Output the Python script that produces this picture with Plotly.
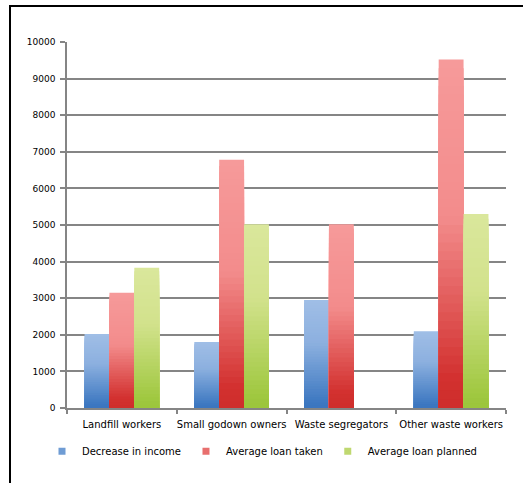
import plotly.graph_objects as go

categories = ["Landfill workers", "Small godown owners", "Waste segregators", "Other waste workers"]
decrease_in_income = [2020, 1800, 2950, 2100]
average_loan_taken = [3150, 6780, 5020, 9520]
average_loan_planned = [3830, 5020, 0, 5300]
y_ticks = list(range(0, 10001, 1000))

series = [
    ("Decrease in income", decrease_in_income,
     [(0.0, (160, 190, 230)), (0.4, (140, 176, 223)), (0.95, (61, 120, 193)), (1.0, (59, 117, 190))]),
    ("Average loan taken", average_loan_taken,
     [(0.0, (246, 154, 154)), (0.45, (243, 140, 140)), (0.92, (210, 48, 46)), (1.0, (207, 46, 44))]),
    ("Average loan planned", average_loan_planned,
     [(0.0, (218, 231, 156)), (0.4, (210, 226, 140)), (0.95, (158, 199, 62)), (1.0, (155, 197, 60))]),
]

N_SEG = 40


def grad_color(stops, t):
    for (t0, c0), (t1, c1) in zip(stops[:-1], stops[1:]):
        if t <= t1:
            f = 0 if t1 == t0 else (t - t0) / (t1 - t0)
            c = [round(a + (b - a) * f) for a, b in zip(c0, c1)]
            return "rgb(%d,%d,%d)" % tuple(c)
    return "rgb(%d,%d,%d)" % stops[-1][1]


FONT = "DejaVu Sans"
fig = go.Figure()

for gi, (name, vals, stops) in enumerate(series):
    # overlapping bars from the bottom: tallest first (lightest top band), shorter ones drawn over it
    for k in range(N_SEG):
        frac = (N_SEG - k) / N_SEG
        t = (k + 0.5) / N_SEG
        fig.add_trace(go.Bar(
            x=categories,
            y=[v * frac for v in vals],
            offsetgroup=str(gi),
            marker=dict(color=grad_color(stops, t), line=dict(width=0)),
            showlegend=False,
            hoverinfo="skip",
        ))
    # legend entry
    fig.add_trace(go.Scatter(
        x=[None], y=[None], mode="markers", name=name,
        marker=dict(symbol="square", size=7, color=grad_color(stops, 0.6)),
    ))

fig.update_layout(
    width=523, height=483,
    margin=dict(l=67, r=17, t=42, b=75, autoexpand=False),
    paper_bgcolor="white", plot_bgcolor="white",
    barmode="group", bargap=0.32, bargroupgap=0,
    font=dict(family=FONT, size=10, color="#000000"),
    showlegend=True,
    legend=dict(orientation="h", xref="container", x=42 / 523, xanchor="left",
                y=-0.118, yanchor="middle",
                font=dict(family=FONT, size=10), itemwidth=30, bgcolor="rgba(0,0,0,0)"),
    shapes=[dict(type="rect", xref="paper", yref="paper",
                 x0=-57 / 439, x1=1.3, y0=-0.5, y1=402 / 366,
                 line=dict(color="black", width=2), fillcolor="rgba(0,0,0,0)", layer="above")],
)
fig.update_xaxes(
    showline=True, linecolor="#858585", linewidth=1.5,
    ticks="outside", tickson="boundaries", ticklen=4, tickcolor="#858585", tickwidth=1.5,
    showgrid=False, tickangle=0, automargin=False, ticklabelstandoff=6,
    tickfont=dict(family=FONT, size=10),
)
fig.update_yaxes(
    range=[0, 10000], tickvals=y_ticks, ticktext=[str(v) for v in y_ticks],
    showline=True, linecolor="#858585", linewidth=1.5,
    ticks="outside", ticklen=5, tickcolor="#858585", tickwidth=1.5,
    showgrid=True, gridcolor="#858585", gridwidth=1.5, zeroline=False, automargin=False,
    ticklabelstandoff=3, tickfont=dict(family=FONT, size=9),
)

fig.write_html("out.html")
